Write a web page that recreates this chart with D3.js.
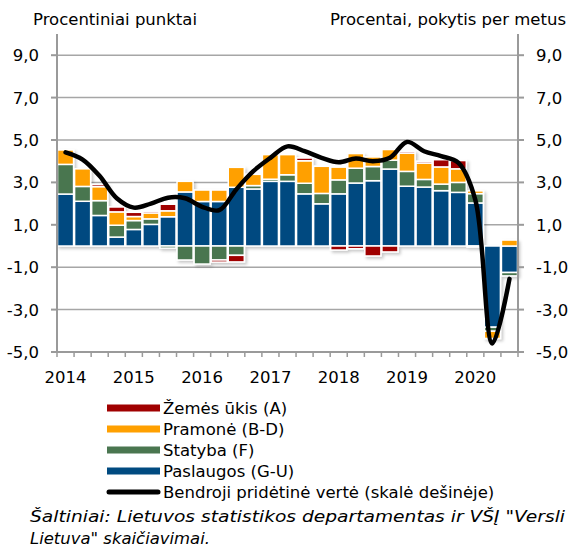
<!DOCTYPE html>
<meta charset="utf-8">
<script src="https://d3js.org/d3.v7.min.js"></script>
<style>
  body { margin: 0; background: #fff; }
  text { font-family: "DejaVu Sans", Verdana, sans-serif; fill: #000; }
</style>
<div id="chart"></div>
<script>

// quarters 2014 Q1 .. 2020 Q3
var quarters = ["2014K1","2014K2","2014K3","2014K4","2015K1","2015K2","2015K3","2015K4",
                "2016K1","2016K2","2016K3","2016K4","2017K1","2017K2","2017K3","2017K4",
                "2018K1","2018K2","2018K3","2018K4","2019K1","2019K2","2019K3","2019K4",
                "2020K1","2020K2","2020K3"];

var paslaugos = [2.45, 2.11, 1.44, 0.42, 0.78, 1.02, 1.38, 2.55, 2.10, 2.10, 2.77, 2.69, 3.05, 3.05, 2.46, 1.99,
                 2.46, 2.97, 3.08, 3.63, 2.82, 2.78, 2.61, 2.53, 2.03, -3.83, -1.25];
var statyba   = [1.40, 0.70, 0.70, 0.56, 0.42, 0.26, -0.10, -0.66, -0.85, -0.66, -0.44, 0.16, 0.10, 0.31, 0.50, 0.49,
                 0.66, 0.70, 0.67, 0.42, 0.70, 0.36, 0.31, 0.47, 0.44, -0.19, -0.16];
var pramone   = [0.68, 0.83, 0.66, 0.63, 0.19, 0.28, 0.28, 0.50, 0.54, 0.54, 0.94, 0.53, 1.16, 0.95, 1.06, 1.28,
                 0.60, 0.69, 0.45, 0.50, 0.86, 0.77, 0.81, 0.64, 0.13, -0.34, 0.28];
var zemes     = [0, 0, 0.10, 0.23, 0.20, 0.08, 0.31, 0, 0, -0.10, -0.31, 0, 0, 0, 0.13, 0,
                 -0.19, -0.13, -0.47, -0.28, 0.08, 0.08, 0.34, 0.39, -0.05, 0, 0];
var bpv       = [4.42, 4.08, 3.30, 2.25, 1.81, 2.00, 2.28, 2.25, 1.85, 1.69, 2.67, 3.53, 4.16, 4.70, 4.47, 4.16,
                 3.95, 4.13, 4.00, 4.16, 4.91, 4.47, 4.24, 3.93, 2.18, -4.60, -1.55];

var yTicks = [-5, -3, -1, 1, 3, 5, 7, 9];
var years = ["2014","2015","2016","2017","2018","2019","2020"];

var keys = ["paslaugos", "statyba", "pramone", "zemes"];
var colors = {zemes: "#a00000", pramone: "#ffa000", statyba: "#4a7650", paslaugos: "#004a80"};
var legendItems = [
  {key: "zemes", label: "Žemės ūkis (A)"},
  {key: "pramone", label: "Pramonė (B-D)"},
  {key: "statyba", label: "Statyba (F)"},
  {key: "paslaugos", label: "Paslaugos (G-U)"},
  {key: "line", label: "Bendroji pridėtinė vertė (skalė dešinėje)"}
];

var data = quarters.map(function(q, i) {
  return {q: q, paslaugos: paslaugos[i], statyba: statyba[i], pramone: pramone[i], zemes: zemes[i]};
});

var W = 570, H = 550;
var pLeft = 57, pRight = 518, pTop = 34, pBottom = 352;
var fs = 16.5;

var svg = d3.select("#chart").append("svg")
  .attr("width", W).attr("height", H);

var defs = svg.append("defs");
var f = defs.append("filter").attr("id", "shadow")
  .attr("x", "-20%").attr("y", "-20%").attr("width", "150%").attr("height", "150%");
f.append("feDropShadow").attr("dx", 2).attr("dy", 2).attr("stdDeviation", 1.5)
  .attr("flood-color", "#000").attr("flood-opacity", 0.22);

var x = d3.scaleBand().domain(quarters).range([pLeft, pRight]).paddingInner(0.06).paddingOuter(0.03);
var y = d3.scaleLinear().domain([-5, 10]).range([pBottom, pTop]);
var step = (pRight - pLeft) / quarters.length;

// gridlines
svg.append("g").selectAll("line")
  .data(yTicks.filter(function(d) { return d > -5; }))
  .enter().append("line")
    .attr("x1", pLeft).attr("x2", pRight)
    .attr("y1", function(d) { return y(d); }).attr("y2", function(d) { return y(d); })
    .attr("stroke", "#a6a6a6").attr("stroke-width", 1.5);

// bars
var stacked = d3.stack().keys(keys).offset(d3.stackOffsetDiverging)(data);

svg.append("g").attr("filter", "url(#shadow)")
  .selectAll("g")
  .data(stacked)
  .enter().append("g")
    .attr("fill", function(d) { return colors[d.key]; })
  .selectAll("rect")
  .data(function(d) { return d.filter(function(p) { return p[1] - p[0] !== 0; }); })
  .enter().append("rect")
    .attr("x", function(d) { return x(d.data.q); })
    .attr("width", x.bandwidth())
    .attr("y", function(d) { return y(d[1]); })
    .attr("height", function(d) { return y(d[0]) - y(d[1]); })
    .attr("stroke", "#fff").attr("stroke-width", 1.5);

// axes
var axisCol = "#9a9a9a";
var ax = svg.append("g").attr("stroke", axisCol).attr("stroke-width", 2);
ax.append("line").attr("x1", pLeft).attr("x2", pLeft).attr("y1", pTop).attr("y2", pBottom);
ax.append("line").attr("x1", pRight).attr("x2", pRight).attr("y1", pTop).attr("y2", pBottom);
ax.append("line").attr("x1", pLeft).attr("x2", pRight).attr("y1", pBottom).attr("y2", pBottom);
ax.selectAll(".tl").data(yTicks).enter().append("line")
  .attr("x1", pLeft - 6).attr("x2", pLeft)
  .attr("y1", function(d) { return y(d); }).attr("y2", function(d) { return y(d); });
ax.selectAll(".tr").data(yTicks).enter().append("line")
  .attr("x1", pRight).attr("x2", pRight + 6)
  .attr("y1", function(d) { return y(d); }).attr("y2", function(d) { return y(d); });
ax.selectAll(".tx").data(d3.range(quarters.length + 1)).enter().append("line")
  .attr("stroke-width", 1.5)
  .attr("x1", function(i) { return pLeft + i * step; }).attr("x2", function(i) { return pLeft + i * step; })
  .attr("y1", pBottom).attr("y2", pBottom + 5);

var fmt = function(d) { return d.toFixed(1).replace(".", ","); };
svg.append("g").selectAll("text").data(yTicks).enter().append("text")
  .attr("x", 39).attr("y", function(d) { return y(d) + 6; })
  .attr("text-anchor", "end").attr("font-size", fs).text(fmt);
svg.append("g").selectAll("text").data(yTicks).enter().append("text")
  .attr("x", 536).attr("y", function(d) { return y(d) + 6; })
  .attr("text-anchor", "start").attr("font-size", fs).text(fmt);

svg.append("g").selectAll("text").data(years).enter().append("text")
  .attr("x", function(d) { return x(d + "K1") + x.bandwidth() / 2; })
  .attr("y", 383).attr("text-anchor", "middle").attr("font-size", fs)
  .text(function(d) { return d; });

svg.append("text").attr("x", 33).attr("y", 25).attr("font-size", fs).text("Procentiniai punktai");
svg.append("text").attr("x", 566).attr("y", 25).attr("text-anchor", "end").attr("font-size", fs)
  .text("Procentai, pokytis per metus");

// line
var line = d3.line()
  .x(function(d, i) { return x(quarters[i]) + x.bandwidth() / 2; })
  .y(function(d) { return y(d); })
  .curve(d3.curveCatmullRom.alpha(0.5));
svg.append("path").datum(bpv)
  .attr("d", line).attr("fill", "none")
  .attr("stroke", "#000").attr("stroke-width", 4.5)
  .attr("stroke-linejoin", "round").attr("stroke-linecap", "round");

// legend
var lg = svg.append("g").selectAll("g").data(legendItems).enter().append("g")
  .attr("transform", function(d, i) { return "translate(0," + (408 + i * 21) + ")"; });
lg.append("line")
  .attr("x1", function(d) { return d.key === "line" ? 109 : 107; })
  .attr("x2", function(d) { return d.key === "line" ? 158 : 160; })
  .attr("y1", 0).attr("y2", 0)
  .attr("stroke", function(d) { return d.key === "line" ? "#000" : colors[d.key]; })
  .attr("stroke-width", function(d) { return d.key === "line" ? 5 : 7; })
  .attr("stroke-linecap", function(d) { return d.key === "line" ? "round" : "butt"; });
lg.append("text").attr("x", 163).attr("y", 6).attr("font-size", fs)
  .text(function(d) { return d.label; });

svg.append("text").attr("x", 30).attr("y", 522).attr("font-size", fs).attr("font-style", "italic")
  .attr("textLength", 535).attr("lengthAdjust", "spacingAndGlyphs")
  .text("Šaltiniai: Lietuvos statistikos departamentas ir VŠĮ \"Versli");
svg.append("text").attr("x", 30).attr("y", 544).attr("font-size", fs).attr("font-style", "italic")
  .attr("textLength", 180).attr("lengthAdjust", "spacingAndGlyphs")
  .text("Lietuva\" skaičiavimai.");

</script>
